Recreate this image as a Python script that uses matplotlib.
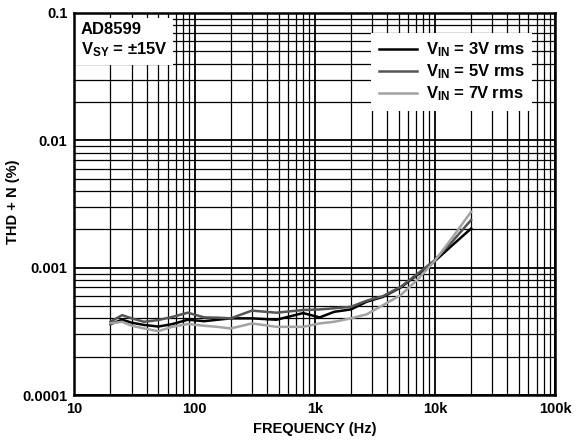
import numpy as np
import matplotlib
matplotlib.use('Agg')
import matplotlib.pyplot as plt
from matplotlib.ticker import LogLocator, FixedLocator, FixedFormatter, NullFormatter

plt.rcParams['font.family'] = ['Liberation Sans', 'DejaVu Sans']
plt.rcParams['font.weight'] = 'bold'
plt.rcParams['mathtext.fontset'] = 'custom'
plt.rcParams['mathtext.rm'] = 'Liberation Sans:bold'
plt.rcParams['mathtext.bf'] = 'Liberation Sans:bold'
plt.rcParams['mathtext.it'] = 'Liberation Sans:bold'

# frequency points (Hz)
freq = [20, 25, 30, 38, 50, 65, 88, 120, 155, 200, 300, 480, 800, 1100,
        1450, 2000, 2700, 3700, 5200, 7100, 9800, 13500, 20000]

# THD+N (%) for each input level
thd_3v = [0.00036, 0.00039, 0.00037, 0.000355, 0.000345, 0.00036, 0.00039,
          0.00038, 0.00039, 0.0004, 0.0004, 0.00039, 0.00044, 0.000407,
          0.00045, 0.00047, 0.00054, 0.00059, 0.0007, 0.000875, 0.00111,
          0.00146, 0.00203]
thd_5v = [0.000376, 0.000424, 0.0004, 0.000376, 0.000388, 0.00041, 0.000443,
          0.000407, 0.000405, 0.0004, 0.00046, 0.000443, 0.000465, 0.00047,
          0.00048, 0.000493, 0.00055, 0.000598, 0.000708, 0.00089, 0.00113,
          0.00155, 0.00237]
thd_7v = [0.000365, 0.000376, 0.00035, 0.000333, 0.000317, 0.000343, 0.000361,
          0.00035, 0.000343, 0.000333, 0.000365, 0.000343, 0.000343, 0.000365,
          0.000376, 0.0004, 0.00043, 0.000508, 0.00061, 0.0008, 0.00111,
          0.00165, 0.00275]

series = [(thd_3v, '#000000', r'$\mathregular{V_{IN}}$ = 3V rms'),
          (thd_5v, '#555555', r'$\mathregular{V_{IN}}$ = 5V rms'),
          (thd_7v, '#a3a3a3', r'$\mathregular{V_{IN}}$ = 7V rms')]

xticks = [10, 100, 1000, 10000, 100000]
xlabels = ['10', '100', '1k', '10k', '100k']
yticks = [0.0001, 0.001, 0.01, 0.1]
ylabels = ['0.0001', '0.001', '0.01', '0.1']

fig = plt.figure(figsize=(5.85, 4.46), dpi=100)
ax = fig.add_axes([0.127, 0.1143, 0.822, 0.8566])

for vals, col, lab in series:
    ax.plot(freq, vals, color=col, lw=1.8, label=lab, zorder=3)

ax.set_xscale('log')
ax.set_yscale('log')
ax.set_xlim(10, 100000)
ax.set_ylim(0.0001, 0.1)

ax.xaxis.set_major_locator(FixedLocator(xticks))
ax.xaxis.set_major_formatter(FixedFormatter(xlabels))
ax.xaxis.set_minor_locator(LogLocator(base=10, subs=np.arange(2, 10)))
ax.xaxis.set_minor_formatter(NullFormatter())
ax.yaxis.set_major_locator(FixedLocator(yticks))
ax.yaxis.set_major_formatter(FixedFormatter(ylabels))
ax.yaxis.set_minor_locator(LogLocator(base=10, subs=np.arange(2, 10)))
ax.yaxis.set_minor_formatter(NullFormatter())

ax.grid(True, which='major', color='black', lw=1.3)
ax.grid(True, which='minor', color='black', lw=0.9)
ax.tick_params(which='both', length=0, labelsize=10.5, pad=5)
for lbl in ax.get_xticklabels() + ax.get_yticklabels():
    lbl.set_fontweight('bold')
for sp in ax.spines.values():
    sp.set_linewidth(1.8)
    sp.set_zorder(6)

ax.set_xlabel('FREQUENCY (Hz)', fontsize=10.5, fontweight='bold', labelpad=4)
ax.set_ylabel('THD + N (%)', fontsize=10.5, fontweight='bold')
ax.yaxis.set_label_coords(-0.113, 0.505)

leg = ax.legend(loc='upper right', bbox_to_anchor=(0.952, 0.948), borderaxespad=0,
                fontsize=12, frameon=True, fancybox=False, framealpha=1,
                handlelength=2.3, labelspacing=0.2, borderpad=0.45,
                handletextpad=0.5)
leg.get_frame().set_edgecolor('none')
leg.get_frame().set_facecolor('white')
leg.set_zorder(5)

ax.text(0.0135, 0.976, 'AD8599\n' + r'$\mathregular{V_{SY}}$ = ±15V', transform=ax.transAxes,
        ha='left', va='top', fontsize=12, fontweight='bold', linespacing=1.25,
        bbox=dict(facecolor='white', edgecolor='none', pad=4), zorder=5)

fig.savefig('out.png', dpi=100)
